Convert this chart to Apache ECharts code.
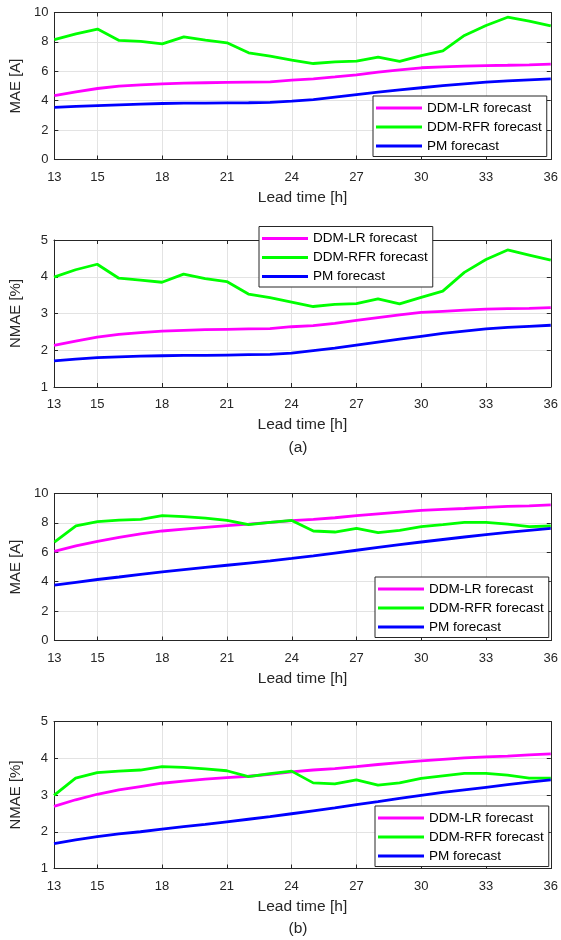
<!DOCTYPE html>
<html>
<head>
<meta charset="utf-8">
<title>MAE / NMAE vs lead time</title>
<script src="https://cdn.jsdelivr.net/npm/echarts@6/dist/echarts.min.js"></script>
<style>
  html, body { margin: 0; padding: 0; background: #fff; }
  #container { width: 561px; height: 940px; }
</style>
</head>
<body>
<div id="container"></div>
<script>
// lead time [h]
var hours = [13, 14, 15, 16, 17, 18, 19, 20, 21, 22, 23, 24, 25, 26, 27, 28, 29, 30, 31, 32, 33, 34, 35, 36];
var xTicks = [13, 15, 18, 21, 24, 27, 30, 33, 36];
var seriesNames = ['DDM-LR forecast', 'DDM-RFR forecast', 'PM forecast'];

// (a) MAE [A]
var aMaeLR  = [4.35, 4.60, 4.83, 4.99, 5.08, 5.15, 5.19, 5.22, 5.24, 5.26, 5.28, 5.40, 5.49, 5.62, 5.76, 5.94, 6.10, 6.24, 6.30, 6.35, 6.39, 6.41, 6.44, 6.49];
var aMaeRFR = [8.16, 8.55, 8.87, 8.10, 8.03, 7.87, 8.34, 8.12, 7.94, 7.26, 7.03, 6.76, 6.53, 6.64, 6.69, 6.96, 6.67, 7.07, 7.39, 8.44, 9.12, 9.68, 9.41, 9.09];
var aMaePM  = [3.54, 3.61, 3.67, 3.72, 3.77, 3.81, 3.83, 3.84, 3.85, 3.86, 3.88, 3.97, 4.08, 4.25, 4.42, 4.58, 4.73, 4.88, 5.03, 5.15, 5.26, 5.35, 5.42, 5.49];
// (a) NMAE [%]
var aNmaeLR  = [2.13, 2.25, 2.36, 2.43, 2.48, 2.52, 2.54, 2.56, 2.57, 2.58, 2.59, 2.64, 2.67, 2.73, 2.81, 2.89, 2.96, 3.03, 3.06, 3.09, 3.12, 3.13, 3.14, 3.16];
var aNmaeRFR = [3.99, 4.19, 4.34, 3.96, 3.91, 3.85, 4.07, 3.95, 3.87, 3.53, 3.43, 3.31, 3.19, 3.25, 3.27, 3.40, 3.26, 3.44, 3.61, 4.12, 4.47, 4.73, 4.59, 4.45];
var aNmaePM  = [1.71, 1.76, 1.80, 1.82, 1.84, 1.85, 1.86, 1.86, 1.87, 1.88, 1.89, 1.92, 1.99, 2.06, 2.14, 2.22, 2.30, 2.38, 2.46, 2.52, 2.58, 2.62, 2.65, 2.68];
// (b) MAE [A]
var bMaeLR  = [6.07, 6.43, 6.75, 7.02, 7.25, 7.45, 7.58, 7.70, 7.81, 7.92, 8.04, 8.15, 8.24, 8.35, 8.49, 8.62, 8.74, 8.85, 8.92, 8.98, 9.05, 9.12, 9.16, 9.23];
var bMaeRFR = [6.70, 7.79, 8.08, 8.19, 8.24, 8.49, 8.42, 8.33, 8.17, 7.88, 8.04, 8.17, 7.45, 7.38, 7.63, 7.34, 7.49, 7.74, 7.88, 8.04, 8.04, 7.92, 7.74, 7.79];
var bMaePM  = [3.77, 3.96, 4.15, 4.32, 4.50, 4.67, 4.82, 4.97, 5.12, 5.27, 5.42, 5.58, 5.76, 5.95, 6.14, 6.33, 6.52, 6.70, 6.87, 7.04, 7.20, 7.35, 7.49, 7.63];
// (b) NMAE [%]
var bNmaeLR  = [2.69, 2.87, 3.02, 3.14, 3.23, 3.32, 3.38, 3.43, 3.47, 3.51, 3.56, 3.63, 3.68, 3.72, 3.77, 3.83, 3.88, 3.93, 3.97, 4.01, 4.04, 4.06, 4.09, 4.12];
var bNmaeRFR = [2.99, 3.46, 3.61, 3.65, 3.68, 3.77, 3.75, 3.71, 3.66, 3.50, 3.58, 3.65, 3.33, 3.30, 3.41, 3.27, 3.33, 3.45, 3.52, 3.59, 3.59, 3.54, 3.46, 3.46];
var bNmaePM  = [1.68, 1.78, 1.87, 1.94, 2.00, 2.07, 2.14, 2.20, 2.27, 2.34, 2.41, 2.49, 2.57, 2.65, 2.74, 2.82, 2.91, 2.99, 3.07, 3.14, 3.21, 3.28, 3.35, 3.41];

var colors = ['#ff00ff', '#00ff00', '#0000ff'];
var font = '"Liberation Sans", Arial, sans-serif';
var ink = '#262626';

// one entry per subplot
var panels = [
  { top: 12.5, yName: 'MAE [A]',    yMin: 0, yMax: 10, yStep: 2, data: [aMaeLR, aMaeRFR, aMaePM],    legend: [373, 96] },
  { top: 240,  yName: 'NMAE [%]',   yMin: 1, yMax: 5,  yStep: 1, data: [aNmaeLR, aNmaeRFR, aNmaePM], legend: [259, 226.5] },
  { top: 493.5, yName: 'MAE [A]',   yMin: 0, yMax: 10, yStep: 2, data: [bMaeLR, bMaeRFR, bMaePM],    legend: [375, 577] },
  { top: 721.5, yName: 'NMAE [%]',  yMin: 1, yMax: 5,  yStep: 1, data: [bNmaeLR, bNmaeRFR, bNmaePM], legend: [375, 806] }
];

var grids = [], xAxes = [], yAxes = [], series = [], legends = [];

panels.forEach(function (p, i) {
  grids.push({ left: 52, right: 9, top: p.top, height: 147, containLabel: false });

  // bottom x axis with labels
  xAxes.push({
    type: 'value', gridIndex: i, position: 'bottom', min: 13, max: 36,
    name: 'Lead time [h]', nameLocation: 'middle', nameGap: 30,
    nameTextStyle: { color: ink, fontFamily: font, fontSize: 15.5 },
    axisLine: { show: true, lineStyle: { color: ink, width: 1 } },
    axisTick: { show: true, inside: true, length: 4, customValues: xTicks, lineStyle: { color: ink } },
    axisLabel: { customValues: xTicks, margin: 11, color: ink, fontFamily: font, fontSize: 13 },
    splitLine: { show: true, lineStyle: { color: '#e3e3e3', width: 1 } }
  });
  // top x axis: box edge + ticks only
  xAxes.push({
    type: 'value', gridIndex: i, position: 'top', min: 13, max: 36,
    axisLine: { show: true, onZero: false, lineStyle: { color: ink, width: 1 } },
    axisTick: { show: true, inside: true, length: 4, customValues: xTicks, lineStyle: { color: ink } },
    axisLabel: { show: false, customValues: xTicks },
    splitLine: { show: false }
  });

  yAxes.push({
    type: 'value', gridIndex: i, position: 'left', min: p.yMin, max: p.yMax, interval: p.yStep,
    name: p.yName, nameLocation: 'middle', nameGap: 31, nameRotate: 90,
    nameTextStyle: { color: ink, fontFamily: font, fontSize: 15 },
    axisLine: { show: true, onZero: false, lineStyle: { color: ink, width: 1 } },
    axisTick: { show: true, inside: true, length: 4, lineStyle: { color: ink } },
    axisLabel: { margin: 6, color: ink, fontFamily: font, fontSize: 13 },
    splitLine: { show: true, lineStyle: { color: '#e3e3e3', width: 1 } }
  });
  yAxes.push({
    type: 'value', gridIndex: i, position: 'right', min: p.yMin, max: p.yMax, interval: p.yStep,
    axisLine: { show: true, onZero: false, lineStyle: { color: ink, width: 1 } },
    axisTick: { show: true, inside: true, length: 4, lineStyle: { color: ink } },
    axisLabel: { show: false },
    splitLine: { show: false }
  });

  p.data.forEach(function (vals, k) {
    series.push({
      type: 'line', name: seriesNames[k],
      xAxisIndex: 2 * i, yAxisIndex: 2 * i,
      data: hours.map(function (h, j) { return [h, vals[j]]; }),
      symbol: 'none', smooth: false, animation: false,
      lineStyle: { color: colors[k], width: 2.8 },
      itemStyle: { color: colors[k] },
      z: 2 + k
    });
  });

  legends.push({
    data: seriesNames, orient: 'vertical',
    left: p.legend[0], top: p.legend[1],
    icon: 'rect', itemWidth: 46, itemHeight: 3, itemGap: 5,
    padding: [5, 5, 3.5, 3],
    backgroundColor: '#fff', borderColor: ink, borderWidth: 1,
    textStyle: { color: '#000', fontFamily: font, fontSize: 13.5, lineHeight: 14 },
    selectedMode: false
  });
});

var chart = echarts.init(document.getElementById('container'), null, { renderer: 'canvas' });
chart.setOption({
  backgroundColor: '#fff',
  animation: false,
  title: [
    { text: '(a)', left: 298, top: 440, textAlign: 'center', padding: 0,
      textStyle: { color: ink, fontFamily: font, fontSize: 15.5, fontWeight: 'normal' } },
    { text: '(b)', left: 298, top: 921, textAlign: 'center', padding: 0,
      textStyle: { color: ink, fontFamily: font, fontSize: 15.5, fontWeight: 'normal' } }
  ],
  grid: grids,
  xAxis: xAxes,
  yAxis: yAxes,
  legend: legends,
  series: series
});
</script>
</body>
</html>
